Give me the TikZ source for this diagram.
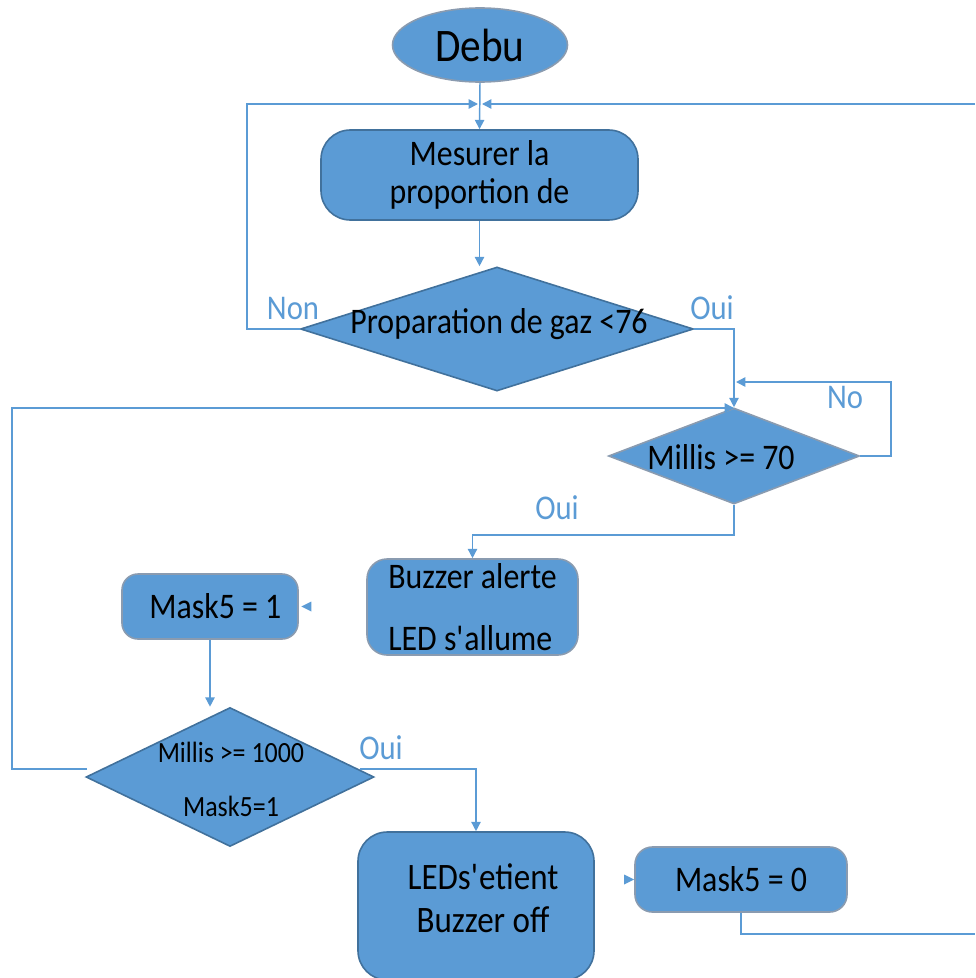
\documentclass[tikz,border=0pt]{standalone}
\usepackage{fontspec}
\setmainfont{Carlito}[FakeStretch=0.885]
\usetikzlibrary{shapes.geometric,arrows.meta,calc}
\definecolor{boxfill}{HTML}{5B9BD5}
\definecolor{boxedge}{HTML}{41719C}
\definecolor{softedge}{HTML}{8A9BB0}
\definecolor{linkc}{HTML}{5B9BD5}
\begin{document}
\begin{tikzpicture}[x=0.75pt,y=-0.75pt,
  box/.style={draw=boxedge, fill=boxfill, line width=1.2pt, inner sep=0pt, text=black},
  softbox/.style={box, draw=softedge},
  link/.style={draw=linkc, line width=1.1pt},
  arr/.style={link, -{Triangle[length=7pt,width=7pt]}},
  lbl/.style={text=linkc, font=\fontsize{26pt}{27pt}\selectfont, inner sep=0pt},
  txt/.style={font=\fontsize{27pt}{28pt}\selectfont},
  smalltxt/.style={font=\fontsize{22pt}{23pt}\selectfont, inner sep=0pt}]
\useasboundingbox (0,0) rectangle (975,978);

% flowchart blocks
\node[softbox, ellipse, minimum width=131.25pt, minimum height=55.5pt,
      font=\fontsize{35pt}{36pt}\selectfont] (start) at (480,45) {Debu};
\node[box, rounded corners=22pt, minimum width=237.75pt, minimum height=67.5pt,
      align=center, txt] (mes) at (479.5,175) {Mesurer la\\proportion de};
\node[box, diamond, minimum width=294.75pt, minimum height=93pt] (d1) at (497,329) {};
\node[txt, inner sep=0pt] (d1t) at (499,324) {Proparation de gaz <76};
\node[softbox, diamond, minimum width=188.25pt, minimum height=72pt] (d2) at (734,456) {};
\node[txt, inner sep=0pt] (d2t) at (721,457) {Millis >= 70};
\node[softbox, rounded corners=15pt, minimum width=158.25pt, minimum height=72pt,
      align=left, txt] (buz) at (472.5,607) {Buzzer alerte\\[19pt]LED s\textquotesingle allume};
\node[softbox, rounded corners=12pt, minimum width=132pt, minimum height=48.75pt,
      txt] (m1) at (210,606.5) {\hspace*{8pt}Mask5 = 1};
\node[box, diamond, minimum width=216pt, minimum height=104.25pt] (d3) at (230,777) {};
\node[smalltxt] (d3a) at (231,752) {Millis >= 1000};
\node[smalltxt] (d3b) at (231,806) {Mask5=1};
\node[box, rounded corners=22pt, minimum width=177pt, minimum height=111pt] (led) at (476,906) {};
\node[align=center, font=\fontsize{28pt}{32pt}\selectfont, inner sep=0pt] (ledt) at (483,898.5)
      {LEDs\textquotesingle etient\\Buzzer off};
\node[softbox, rounded corners=13pt, minimum width=159pt, minimum height=48.75pt,
      txt] (m0) at (741,879.5) {Mask5 = 0};

% branch labels
\node[lbl] (nonL) at (293,308) {Non};
\node[lbl] (oui1) at (712,308) {Oui};
\node[lbl] (noL) at (845,397) {No};
\node[lbl] (oui2) at (557,508) {Oui};
\node[lbl] (oui3) at (381,748) {Oui};

% routing points
\coordinate (jL) at (478,104);
\coordinate (jR) at (482,104);
\coordinate (nonC) at (247,104);
\coordinate (topR) at (975,104);
\coordinate (noC) at (891,382);
\coordinate (noEnd) at (736,382);
\coordinate (loopL) at (12,408);
\coordinate (d2s) at (734,535);
\coordinate (botR) at (975,934);

% connectors
\draw[arr] (start.south) -- (mes.north);
\draw[arr] (d1.west) -| (nonC) -- (jL);
\draw[arr] (topR) -- (jR);
\draw[arr] (mes.south) -- (mes.south |- d1.north);
\draw[arr] (d1.east) -| (d2.north);
\draw[arr] (d2.east) -| (noC) -- (noEnd);
\draw[arr] ([shift={(2,-8)}]d3.west) -| (loopL) -- (loopL -| d2.north);
\draw[arr] (d2.south) -- (d2s) -| (buz.north);
\draw[arr] (m1.south) -- (m1.south |- d3.north);
\draw[arr] ([shift={(-15,-8)}]d3.east) -| (led.north);
\draw[link] (m0.south) |- (botR);

% loose arrow heads
\fill[linkc] ([xshift=2pt]m1.east) -- ++(10,-5) -- ++(0,10) -- cycle;
\fill[linkc] (m0.west) -- ++(-10,-5) -- ++(0,10) -- cycle;
\end{tikzpicture}
\end{document}
